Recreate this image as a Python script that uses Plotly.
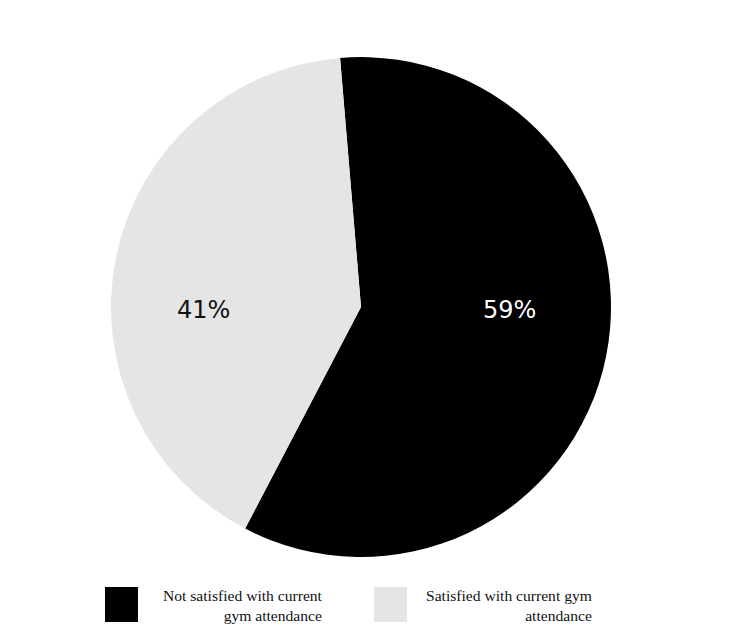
import plotly.graph_objects as go

labels = ["Not satisfied with current<br>gym attendance", "Satisfied with current gym<br>attendance"]
values = [59, 41]
colors = ["#000000", "#e5e5e5"]
text_colors = ["#ffffff", "#111111"]

W, H = 739, 635
OFF = 8  # page body margin offset


def px(x):
    return (x - OFF) / W


def py(y):
    return 1 - (y - OFF) / H


fig = go.Figure()
fig.add_trace(go.Pie(
    labels=labels,
    values=values,
    sort=False,
    direction="clockwise",
    rotation=-4.8,
    marker=dict(colors=colors, line=dict(width=0)),
    textinfo="none",
    showlegend=False,
    hoverinfo="label+percent",
    domain=dict(x=[px(111), px(611)], y=[py(557), py(57)]),
))

# percentage labels (placed horizontally like the reference)
label_x = [509, 203]
total = sum(values)
for i, v in enumerate(values):
    fig.add_annotation(xref="paper", yref="paper",
                       x=px(label_x[i]), y=py(310),
                       xanchor="center", yanchor="middle",
                       text=f"{round(100 * v / total)}%", showarrow=False,
                       font=dict(family="DejaVu Sans", size=24, color=text_colors[i]))

# Custom legend
legend_boxes = [(105, 138), (374, 407)]
legend_text_right = [325, 594]
for i, lab in enumerate(labels):
    x0, x1 = legend_boxes[i]
    fig.add_shape(type="rect", xref="paper", yref="paper",
                  x0=px(x0), x1=px(x1), y0=py(622), y1=py(587),
                  fillcolor=colors[i], line=dict(width=0))
    fig.add_annotation(xref="paper", yref="paper",
                       x=px(legend_text_right[i]), y=py(585),
                       xanchor="right", yanchor="top", align="right",
                       text=lab, showarrow=False,
                       font=dict(family="Liberation Serif", size=15.6, color="#111111"))

fig.update_layout(width=W, height=H, margin=dict(l=0, r=0, t=0, b=0),
                  paper_bgcolor="white", plot_bgcolor="white")
fig.write_html("out.html")
